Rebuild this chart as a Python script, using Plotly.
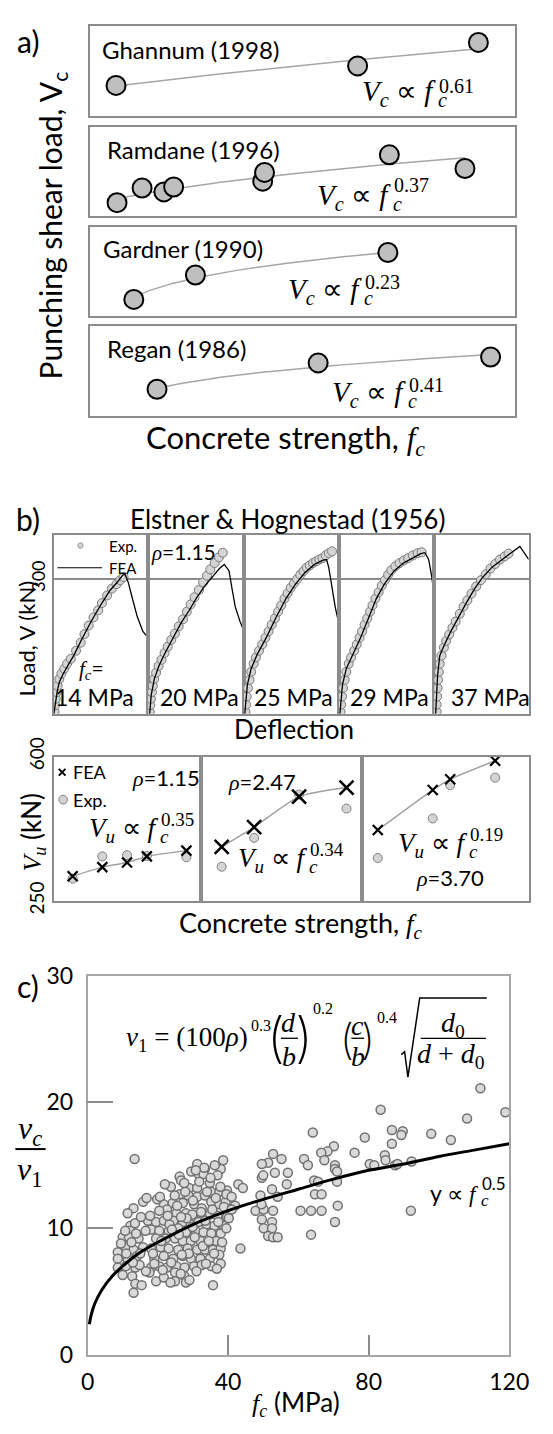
import numpy as np
import plotly.graph_objects as go

W, H = 553, 1434
SANS = "Lato"
SERIF = "Liberation Serif"

# ---------------- panel a: punching shear load vs concrete strength ----------------
ghannum_fc = [35, 67, 83]
ghannum_vc = [112, 152, 200]
ramdane_fc = [25, 30.4, 35.1, 37.2, 56.4, 56.8, 83.7, 100]
ramdane_vc = [116, 146, 138, 148, 160, 178, 214, 186]
gardner_fc = [10, 29.4, 90]
gardner_vc = [134, 184, 230]
regan_fc = [10, 58.3, 110]
regan_vc = [100, 235, 265]
a_exponents = ["0.61", "0.37", "0.23", "0.41"]
a_titles = ["Ghannum (1998)", "Ramdane (1996)", "Gardner (1990)", "Regan (1986)"]

# ---------------- panel b: load-deflection curves (Elstner & Hognestad) ----------------
mpa_labels = ["14 MPa", "20 MPa", "25 MPa", "29 MPa", "37 MPa"]

fea14_d = [0, 0.34, 0.7, 1.15, 1.8, 2.8, 4.2, 5.9, 7.9, 9.9, 11.9, 13.6, 14.6, 15.1, 15.8, 16.6, 17.7, 18.9, 20]
fea14_v = [0, 28, 49, 70, 85, 104, 129, 165, 205, 241, 274, 294, 308, 310, 292, 259, 216, 183, 169]
exp14_d = [0.14, 0.28, 0.4, 0.6, 0.8, 1.15, 1.6, 2.2, 2.8, 3.6, 4.7, 5.7, 6.5, 7.4, 8.4, 9.4, 10.2, 11.3, 12.3, 13.3, 14.1, 14.8]
exp14_v = [4, 19, 33, 48, 62, 77, 89, 100, 111, 122, 140, 158, 177, 196, 214, 230, 246, 263, 278, 288, 297, 304]

fea20_d = [0.34, 0.67, 1.33, 2.3, 3.6, 5.3, 6.9, 8.6, 10.2, 11.9, 13.6, 14.9, 15.9, 16.9, 17.6, 18.2, 19.2, 19.9]
fea20_v = [0, 42, 78, 107, 136, 169, 202, 230, 259, 285, 307, 323, 332, 318, 274, 238, 205, 187]
exp20_d = [0.34, 0.47, 0.6, 0.8, 1.0, 1.27, 1.67, 2.2, 2.8, 3.45, 4.1, 4.85, 5.6, 6.4, 7.3, 8.1, 8.9, 9.7, 10.6, 11.5, 12.3, 13.0, 13.9, 14.8, 15.6]
exp20_v = [4, 19, 33, 48, 62, 77, 91, 106, 120, 135, 149, 164, 178, 194, 210, 227, 243, 259, 275, 292, 307, 321, 335, 348, 358]

fea25_d = [0.2, 0.74, 1.54, 2.86, 4.86, 6.86, 8.86, 10.86, 12.86, 14.86, 16.54, 17.4, 17.86, 18.54, 19.2, 20]
fea25_v = [0, 64, 100, 133, 172, 216, 256, 288, 314, 332, 341, 343, 325, 281, 238, 198]
exp25_d = [0.34, 0.46, 0.6, 0.86, 1.2, 1.54, 2.06, 2.54, 3.2, 3.86, 4.54, 5.2, 5.86, 6.54, 7.2, 7.86, 8.54, 9.2, 9.86, 10.54, 11.2, 11.86, 12.54, 13.2, 13.86, 14.54, 15.2, 15.86, 16.54, 17.2, 17.86, 18.54]
exp25_v = [4, 20, 38, 57, 75, 93, 111, 125, 140, 154, 169, 183, 198, 212, 227, 241, 256, 268, 280, 290, 299, 309, 317, 325, 330, 335, 339, 343, 346, 352, 357, 361]

fea29_d = [0.2, 0.74, 1.54, 2.86, 4.54, 6.2, 7.86, 9.54, 11.54, 13.54, 15.54, 17.2, 18.06, 18.86, 19.54, 20]
fea29_v = [0, 64, 100, 130, 169, 212, 256, 288, 317, 335, 346, 356, 358, 343, 303, 263]
exp29_d = [0.34, 0.46, 0.66, 0.86, 1.2, 1.54, 2.06, 2.54, 3.2, 3.74, 4.34, 4.86, 5.4, 5.94, 6.54, 7.06, 7.66, 8.34, 9.0, 9.66, 10.34, 11.0, 11.86, 12.74, 13.66, 14.54, 15.54, 16.54, 17.4]
exp29_v = [4, 20, 38, 57, 75, 93, 111, 125, 140, 154, 169, 183, 198, 212, 227, 241, 256, 270, 285, 297, 309, 319, 328, 335, 341, 346, 352, 357, 359]

fea37_d = [0.34, 0.74, 1.2, 2.2, 3.55, 5.23, 6.9, 8.58, 10.25, 12.26, 14.27, 15.94, 18.13, 20]
fea37_v = [0, 85, 129, 154, 183, 216, 248, 278, 303, 326, 343, 355, 372, 343]
exp37_d = [0.54, 0.54, 0.66, 0.74, 0.86, 1.0, 1.2, 1.55, 2.07, 2.55, 3.2, 3.88, 4.56, 5.43, 6.23, 7.03, 7.9, 8.9, 9.9, 10.91, 11.92, 12.92, 13.93, 14.93, 15.74]
exp37_v = [4, 20, 38, 57, 75, 93, 111, 129, 147, 162, 176, 191, 205, 222, 238, 252, 267, 283, 297, 310, 323, 333, 343, 350, 356]

# ---------------- panel b: ultimate load vs concrete strength ----------------
rho_labels = ["1.15", "2.47", "3.70"]
fc_115 = [14, 20, 25, 29, 37]
fea_115 = [310, 332, 343, 358, 372]
exp_115 = [304, 358, 361, 359, 356]
fc_247 = [14.5, 21, 30, 39.5]
fea_247 = [381, 429, 503, 525]
exp_247 = [333, 403, 508, 474]
fc_370 = [14, 25, 28.5, 37.5]
fea_370 = [422, 519, 545, 590]
exp_370 = [354, 450, 531, 549]
b_exponents = ["0.35", "0.34", "0.19"]

# ---------------- panel c: normalised shear strength database ----------------
c_fc = [
    13.4, 31.2, 33.4, 38.6, 37.9, 31.6, 33.0, 37.0, 26.2, 26.6, 42.9, 44.2, 23.7, 28.9, 31.2, 34.8,
    35.2, 37.5, 39.7, 26.2, 28.7, 31.2, 33.4, 40.6, 15.8, 13.1, 11.4, 21.7, 24.2, 27.1, 30.3, 32.5,
    35.2, 37.5, 39.3, 42.0, 22.6, 20.4, 25.3, 28.0, 29.8, 32.5, 34.8, 37.0, 39.7, 17.2, 19.5, 21.7,
    24.4, 27.1, 29.4, 31.6, 33.9, 36.1, 38.8, 12.2, 12.2, 18.1, 20.4, 23.1, 25.8, 28.0, 30.7, 33.0,
    35.2, 37.9, 10.0, 11.8, 14.5, 19.5, 22.2, 24.9, 27.1, 29.4, 32.1, 34.3, 36.6, 43.5, 8.6, 10.9,
    13.1, 15.8, 18.1, 20.8, 23.1, 25.8, 28.5, 31.2, 33.4, 35.7, 37.9, 8.6, 11.4, 14.1, 19.0, 21.7,
    24.4, 27.1, 29.4, 32.1, 34.8, 37.5, 8.6, 10.9, 13.6, 18.1, 20.4, 22.6, 25.3, 27.6, 30.3, 32.5,
    35.2, 37.9, 10.0, 12.7, 17.6, 19.5, 21.7, 24.9, 24.9, 27.6, 28.0, 13.6, 15.4, 13.1, 35.7,
    12.5, 13.8, 15.0, 16.5, 17.8, 18.6, 19.8, 21.0, 22.0, 23.3, 23.8, 24.8, 25.5, 26.0, 26.5, 27.8,
    28.2, 28.8, 29.5, 30.0, 30.5, 31.0, 31.8, 32.3, 32.8, 33.5, 34.0, 34.5, 35.0, 35.5, 36.0, 36.5,
    37.2, 37.8, 38.3, 38.8, 39.5, 40.2, 41.0, 36.8, 33.7, 29.0, 26.8, 23.6, 21.4, 19.0, 16.6, 14.8,
    12.9, 11.0, 9.5, 10.7, 13.5, 15.2, 16.8, 20.6, 22.8, 26.6, 29.9, 24.0, 27.5, 33.2, 36.2, 30.8,
    111.8, 83.4, 108.0, 64.1, 78.9, 86.6, 89.7, 89.3, 97.8, 103.4, 86.6, 70.1, 68.3, 66.5, 76.0, 52.8,
    51.4, 55.2, 49.6, 61.6, 62.7, 67.4, 70.4, 84.6, 84.8, 80.3, 81.6, 87.5, 88.2, 92.2, 53.3, 57.0,
    49.6, 56.7, 70.4, 71.0, 64.5, 65.6, 71.0, 52.5, 49.2, 54.1, 64.7, 66.6, 47.8, 50.1, 52.8, 60.6,
    63.6, 66.6, 71.2, 92.0, 49.6, 52.5, 70.4, 50.1, 52.5, 51.4, 52.8, 54.1, 63.6, 118.9, 50.0, 49.5,
    41.0, 39.5,
]
c_ratio = [
    15.5, 15.1, 14.7, 15.4, 14.7, 14.3, 14.3, 14.2, 14.1, 13.8, 13.5, 13.2, 13.3, 13.2, 13.2, 13.6,
    12.9, 12.9, 13.0, 12.7, 12.6, 12.5, 12.6, 12.5, 12.1, 11.6, 11.2, 11.9, 12.0, 12.0, 11.9, 11.6,
    12.1, 11.9, 12.1, 11.8, 11.5, 11.4, 11.2, 11.2, 11.1, 11.0, 11.1, 11.0, 10.9, 10.6, 10.5, 10.6,
    10.6, 10.5, 10.3, 10.5, 10.3, 10.2, 10.2, 10.2, 9.8, 9.9, 9.8, 9.8, 10.0, 9.7, 9.8, 9.7,
    9.6, 9.6, 9.3, 9.3, 9.2, 9.2, 9.2, 9.2, 9.0, 9.0, 9.0, 8.9, 9.0, 8.4, 8.1, 8.5,
    8.3, 8.5, 8.4, 8.5, 8.4, 8.3, 8.4, 8.3, 8.3, 8.3, 8.4, 7.6, 7.6, 7.8, 7.6, 7.8,
    7.6, 7.8, 7.6, 7.6, 7.6, 7.9, 6.9, 7.0, 6.9, 6.9, 7.0, 6.9, 7.0, 6.9, 7.0, 7.1,
    7.0, 7.2, 6.3, 6.2, 6.5, 5.8, 6.1, 6.5, 5.8, 6.2, 5.7, 5.6, 5.5, 4.9, 5.5,
    8.9, 9.6, 8.0, 9.8, 11.0, 8.0, 12.3, 9.0, 13.5, 10.3, 7.3, 12.6, 11.8, 9.5, 6.4, 12.9,
    10.8, 8.0, 14.5, 12.2, 9.3, 6.6, 13.7, 11.3, 8.6, 10.6, 12.9, 9.0, 14.0, 11.5, 8.0, 12.4,
    10.5, 13.3, 8.9, 11.7, 12.7, 10.8, 11.5, 6.8, 7.2, 5.9, 7.9, 5.7, 6.7, 7.2, 6.6, 7.1,
    7.3, 8.0, 8.8, 9.8, 10.4, 10.9, 12.4, 12.5, 11.0, 10.9, 10.1, 9.9, 13.6, 14.8, 15.0, 14.6,
    21.1, 19.4, 18.7, 17.6, 17.2, 17.8, 17.7, 17.4, 17.5, 17.0, 16.7, 16.5, 16.1, 16.0, 16.0, 15.9,
    15.2, 15.5, 15.1, 15.5, 15.0, 15.4, 15.0, 15.8, 15.4, 15.1, 15.0, 15.0, 15.1, 15.3, 14.4, 14.4,
    14.0, 13.5, 14.7, 14.5, 13.8, 13.7, 13.7, 13.1, 12.6, 12.5, 12.7, 12.7, 11.4, 11.5, 11.4, 11.4,
    11.4, 11.4, 11.8, 11.4, 10.7, 10.5, 10.5, 10.0, 10.0, 9.4, 9.3, 9.3, 9.5, 19.2, 14.2, 11.9,
    12.5, 10.0,
]
trend_fc = [0.5, 1, 2, 4, 7, 10, 15, 20, 30, 40, 50, 60, 70, 80, 90, 100, 110, 120]
trend_ratio = [2.4, 3.1, 4.0, 5.1, 6.2, 7.0, 8.1, 8.9, 10.3, 11.4, 12.3, 13.1, 13.9, 14.6, 15.1, 15.7, 16.2, 16.7]


def fx(x):
    return x / W


def fy(y):
    return 1 - y / H


def it(s, family=SERIF):
    return f'<span style="font-family:{family};font-style:italic">{s}</span>'


fig = go.Figure()
layout = {}
annotations = []
shapes = []
axis_count = [0]

BOX = "#8c8c8c"


def new_axes(x0, x1, y0, y1, xr, yr, xkw=None, ykw=None):
    axis_count[0] += 1
    n = axis_count[0]
    sx = "" if n == 1 else str(n)
    base = dict(showgrid=False, zeroline=False, showticklabels=False, ticks="",
                showline=True, mirror=True, linecolor=BOX, linewidth=2, fixedrange=True)
    xa = dict(base, domain=[fx(x0), fx(x1)], range=xr, anchor="y" + sx)
    ya = dict(base, domain=[fy(y1), fy(y0)], range=yr, anchor="x" + sx)
    if xkw:
        xa.update(xkw)
    if ykw:
        ya.update(ykw)
    layout["xaxis" + sx] = xa
    layout["yaxis" + sx] = ya
    return "x" + sx, "y" + sx


def ann(text, x, y, size, family=SANS, xanchor="center", yanchor="middle", angle=0, weight=None):
    font = dict(size=size, family=family, color="black")
    if weight is not None:
        font["weight"] = weight
    annotations.append(dict(text=text, x=fx(x), y=fy(y), xref="paper", yref="paper",
                            showarrow=False, font=font,
                            xanchor=xanchor, yanchor=yanchor, textangle=angle, borderpad=0))


def hline(x0, x1, y, width=1.3, color="black"):
    shapes.append(dict(type="line", xref="paper", yref="paper", x0=fx(x0), x1=fx(x1),
                       y0=fy(y), y1=fy(y), line=dict(color=color, width=width)))


def power_label(lead, f_end, y_mid, sup, sup_y, size=29, small=20, lead_family=SERIF, sup_family=SERIF):
    """'<lead> f_c^sup' with the subscript c and the exponent stacked after f."""
    ann(lead + it("f"), f_end, y_mid + 2, size, lead_family, xanchor="right")
    ann(it("c"), f_end, y_mid + 9, small, SERIF, xanchor="left")
    ann(sup, f_end + 1, sup_y, small, sup_family, xanchor="left")


# ---- panel a ----
a_sets = [(ghannum_fc, ghannum_vc), (ramdane_fc, ramdane_vc), (gardner_fc, gardner_vc), (regan_fc, regan_vc)]
a_boxes = [(7, 99), (111, 202), (213, 304), (314, 406)]
a_xr = [[31.52, 87.84], [19.12, 110.77], [-3.87, 130.0], [-10.17, 117.3]]
a_yr = [[50, 234], [88, 270], [100, 282], [-35, 425]]
for (fc, vc), (t, b), xr, yr, p in zip(a_sets, a_boxes, a_xr, a_yr, a_exponents):
    xa, ya = new_axes(87, 534, t, b, xr, yr)
    pe = float(p)
    k = np.exp(np.mean(np.log(vc) - pe * np.log(fc)))
    xs = np.linspace(min(fc), max(fc), 80)
    fig.add_trace(go.Scatter(x=xs, y=k * xs ** pe, mode="lines", xaxis=xa, yaxis=ya,
                             line=dict(color="#a6a6a6", width=1.5), showlegend=False, hoverinfo="skip"))
    fig.add_trace(go.Scatter(x=fc, y=vc, mode="markers", xaxis=xa, yaxis=ya, showlegend=False,
                             marker=dict(size=19, color="#bfbfbf", line=dict(color="black", width=2))))

ann("a)", 22, 23, 30)
a_title_pos = [(98.8, 31.7), (104, 133.3), (99.8, 235), (104, 337.3)]
a_eq_pos = [(452, 74, 68.5), (405, 180, 170), (374, 276.7, 269.3), (421, 381.7, 375)]
for title, (tx, ty), (fe, ey, sy_), p in zip(a_titles, a_title_pos, a_eq_pos, a_exponents):
    ann(title, tx, ty, 24, xanchor="left")
    power_label("<i>V</i><sub><i>c</i></sub> ∝ ", fe, ey, p, sy_)
ann("Punching shear load, V<sub>c</sub>", 47.6, 211, 30, angle=-90)
ann("Concrete strength, " + it("f<sub>c</sub>"), 293, 430, 31)

# ---- panel b: load-deflection ----
b_curves = [(fea14_d, fea14_v, exp14_d, exp14_v), (fea20_d, fea20_v, exp20_d, exp20_v),
            (fea25_d, fea25_v, exp25_d, exp25_v), (fea29_d, fea29_v, exp29_d, exp29_v),
            (fea37_d, fea37_v, exp37_d, exp37_v)]
b_edges = [49.3, 148.3, 249, 349, 449, 548.5]
for i, (fd, fv, ed, ev) in enumerate(b_curves):
    ykw = dict(showgrid=True, gridcolor=BOX, gridwidth=2, tickvals=[300])
    if i == 0:
        ykw.update(showticklabels=True, ticktext=["300"], tickangle=-90,
                   tickfont=dict(size=18, family=SANS, color="black"))
    xa, ya = new_axes(b_edges[i], b_edges[i + 1], 528, 711, [0, 20], [0, 397.8], ykw=ykw)
    fig.add_trace(go.Scatter(x=ed, y=ev, mode="markers", xaxis=xa, yaxis=ya, showlegend=False,
                             marker=dict(size=9, color="#d4d4d4", line=dict(color="#7a7a7a", width=1))))
    fig.add_trace(go.Scatter(x=fd, y=fv, mode="lines", xaxis=xa, yaxis=ya, showlegend=False,
                             line=dict(color="black", width=1.3)))

ann("b)", 22, 512, 30)
ann("Elstner &amp; Hognestad (1956)", 295, 512, 26)
shapes.append(dict(type="circle", xref="paper", yref="paper", x0=fx(74.5), x1=fx(80), y0=fy(541.8), y1=fy(536.2),
                   fillcolor="#d4d4d4", line=dict(color="#9a9a9a", width=1)))
ann("Exp.", 106, 539, 15, xanchor="left")
hline(53, 100, 561.7, width=1.2)
ann("FEA", 106, 561.7, 15, xanchor="left")
ann(it("ρ") + "=1.15", 150.7, 545.7, 21, xanchor="left")
ann(it("f<sub>c</sub>") + "=", 75, 665, 21, xanchor="left")
for lab, cx in zip(mpa_labels, [92.5, 202, 301, 402.5, 508]):
    ann(lab, cx, 694, 23)
ann("Deflection", 301.6, 726.7, 26)
ann("Load, V (kN)", 20, 634, 22, angle=-90)

# ---- panel b: ultimate load ----
u_sets = [(fc_115, fea_115, exp_115, 10), (fc_247, fea_247, exp_247, 14), (fc_370, fea_370, exp_370, 10)]
u_edges = [49.3, 203.9, 373.2, 548.5]
u_xr = [[10.21, 39.94], [10.35, 42.59], [10.84, 44.22]]
for i, (fc, fea, ex, xs_size) in enumerate(u_sets):
    ykw = None
    if i == 0:
        ykw = dict(showticklabels=True, tickvals=[250, 600], tickangle=-90,
                   tickfont=dict(size=19, family=SANS, color="black"))
    xa, ya = new_axes(u_edges[i], u_edges[i + 1], 755, 902.7, u_xr[i], [250, 600], ykw=ykw)
    fig.add_trace(go.Scatter(x=fc, y=fea, mode="lines", xaxis=xa, yaxis=ya, showlegend=False,
                             line=dict(color="#a0a0a0", width=1.5, shape="spline", smoothing=0.6)))
    fig.add_trace(go.Scatter(x=fc, y=ex, mode="markers", xaxis=xa, yaxis=ya, showlegend=False,
                             marker=dict(size=9, color="#d4d4d4", line=dict(color="#808080", width=1))))
    fig.add_trace(go.Scatter(x=fc, y=fea, mode="markers", xaxis=xa, yaxis=ya, showlegend=False,
                             marker=dict(symbol="x-thin", size=xs_size,
                                         line=dict(color="black", width=2.6 if xs_size > 10 else 2.2))))

for dx in (-1, 1):
    shapes.append(dict(type="line", xref="paper", yref="paper", x0=fx(58 - 3.5), x1=fx(58 + 3.5),
                       y0=fy(771 - 3.5 * dx), y1=fy(771 + 3.5 * dx), line=dict(color="black", width=2)))
ann("FEA", 68, 771, 18, xanchor="left")
shapes.append(dict(type="circle", xref="paper", yref="paper", x0=fx(54.5), x1=fx(63.5), y0=fy(803.5), y1=fy(794.5),
                   fillcolor="#d4d4d4", line=dict(color="#808080", width=1)))
ann("Exp.", 68, 799, 18, xanchor="left")
ann(it("ρ") + "=" + rho_labels[0], 130, 776, 22, xanchor="left")
ann(it("ρ") + "=" + rho_labels[1], 231, 780, 22, xanchor="left")
ann(it("ρ") + "=" + rho_labels[2], 428.6, 878.3, 22, xanchor="left")
for (fe, ey, sy_), p in zip([(160, 828, 819), (316, 858.3, 850), (485, 843.3, 835)], b_exponents):
    power_label("<i>V</i><sub><i>u</i></sub> ∝ ", fe, ey, p, sy_, size=27, small=19)
ann(it("V<sub>u</sub>") + " (kN)", 27, 832, 26, angle=-90)
ann("Concrete strength, " + it("f<sub>c</sub>"), 308.6, 926.7, 27)

# ---- panel c ----
ckw_common = dict(showticklabels=True, ticks="inside", tickcolor="#8c8c8c", tickwidth=2,
                  linecolor="#a6a6a6", linewidth=1.5, tickfont=dict(size=23, family=SANS, color="black"))
xa, ya = new_axes(84.7, 528, 979.5, 1367, [0, 120], [0, 30],
                  xkw=dict(ckw_common, tickvals=[0, 40, 80, 120], ticklen=20, ticklabelstandoff=6),
                  ykw=dict(ckw_common, tickvals=[0, 10, 20, 30], ticklen=26, ticklabelstandoff=8))
fig.add_trace(go.Scatter(x=c_fc, y=c_ratio, mode="markers", xaxis=xa, yaxis=ya, showlegend=False,
                         marker=dict(size=9, color="#d9d9d9", line=dict(color="#707070", width=1.5))))
fig.add_trace(go.Scatter(x=trend_fc, y=trend_ratio, mode="lines", xaxis=xa, yaxis=ya, showlegend=False,
                         line=dict(color="black", width=3, shape="spline", smoothing=0.8)))

ann("c)", 22, 990, 30)
ann(it("v<sub>c</sub>"), 24, 1138, 32, SERIF)
hline(8.8, 40.6, 1156.7, width=2)
ann(it("v") + "<sub>1</sub>", 24, 1180, 32, SERIF)
ann(it("f<sub>c</sub>") + " (MPa)", 304, 1416.7, 26)
power_label("y ∝ ", 497, 1200, "0.5", 1192, size=23, small=17, lead_family=SANS, sup_family=SANS)

# formula for v1
ann(it("v") + "<sub>1</sub> = (100" + it("ρ") + ")", 254, 1044, 27, SERIF, xanchor="right")
ann("0.3", 255, 1030, 16, SERIF, xanchor="left")
ann("(", 283, 1043, 54, "Inter", weight=200)
ann(it("d"), 296.3, 1027, 28, SERIF)
hline(288, 306, 1043.3)
ann(it("b"), 296.3, 1061.5, 28, SERIF)
ann(")", 312, 1043, 54, "Inter", weight=200)
ann("0.2", 321, 1013, 16, SERIF, xanchor="left")
ann("(", 357, 1044, 42, "Inter", weight=200)
ann(it("c"), 368.7, 1030, 28, SERIF)
hline(362, 375.5, 1043.3)
ann(it("b"), 368.7, 1061.5, 28, SERIF)
ann(")", 380, 1044, 42, "Inter", weight=200)
ann("0.4", 388, 1021.7, 16, SERIF, xanchor="left")
shapes.append(dict(type="path", xref="paper", yref="paper",
                   path=f"M {fx(414.5)} {fy(1060)} L {fx(418)} {fy(1057)} L {fx(421.5)} {fy(1083)} "
                        f"L {fx(433.9)} {fy(1002)} L {fx(504.4)} {fy(1002)}",
                   line=dict(color="black", width=1.5)))
ann(it("d") + "<sub>0</sub>", 469, 1029, 28, SERIF)
hline(435, 503.5, 1043.3)
ann(it("d") + " + " + it("d") + "<sub>0</sub>", 467, 1061, 28, SERIF)

fig.update_layout(width=W, height=H, margin=dict(l=0, r=0, t=0, b=0),
                  paper_bgcolor="white", plot_bgcolor="white",
                  annotations=annotations, shapes=shapes, **layout)
fig.write_html("out.html")
